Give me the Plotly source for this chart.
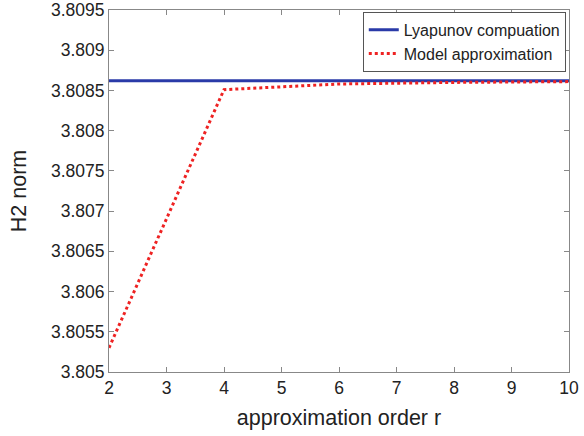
import plotly.graph_objects as go

r_values = [2, 4, 6, 8, 10]
lyapunov = [3.80862, 3.80862, 3.80862, 3.80862, 3.80862]
model_approx = [3.80530, 3.80851, 3.80858, 3.80860, 3.80861]
x_ticks = [2, 3, 4, 5, 6, 7, 8, 9, 10]
y_ticks = [3.805, 3.8055, 3.806, 3.8065, 3.807, 3.8075, 3.808, 3.8085, 3.809, 3.8095]
y_labels = ["3.805", "3.8055", "3.806", "3.8065", "3.807", "3.8075", "3.808", "3.8085", "3.809", "3.8095"]

FONT = "Liberation Sans, Arial"

fig = go.Figure()
fig.add_trace(go.Scatter(x=r_values, y=lyapunov, mode="lines", name="Lyapunov compuation",
                         line=dict(color="#2a3aa8", width=3)))
fig.add_trace(go.Scatter(x=r_values, y=model_approx, mode="lines", name="Model approximation",
                         line=dict(color="#ee2222", width=3, dash="dot")))

axis_common = dict(showgrid=False, zeroline=False, showline=True, linecolor="#888888", linewidth=1,
                   mirror="ticks", ticks="inside", ticklen=5, tickcolor="#888888", automargin=False,
                   tickfont=dict(family=FONT, size=17.5, color="#222222"))
fig.update_xaxes(range=[2, 10], tickvals=x_ticks,
                 title=dict(text="approximation order r", font=dict(family=FONT, size=21.5, color="#222222"), standoff=12),
                 **axis_common)
fig.update_yaxes(range=[3.805, 3.8095], tickvals=y_ticks, ticktext=y_labels,
                 title=dict(text="H2 norm", font=dict(family=FONT, size=21.5, color="#222222"), standoff=18),
                 **axis_common)
fig.update_layout(width=584, height=436, plot_bgcolor="white", paper_bgcolor="white",
                  margin=dict(l=109, r=15, t=10, b=64, autoexpand=False),
                  legend=dict(x=0.993, y=0.995, xanchor="right", yanchor="top",
                              bgcolor="white", bordercolor="#555555", borderwidth=1,
                              font=dict(family=FONT, size=16, color="#222222"),
                              tracegroupgap=0, itemwidth=30))
fig.write_html("out.html")
